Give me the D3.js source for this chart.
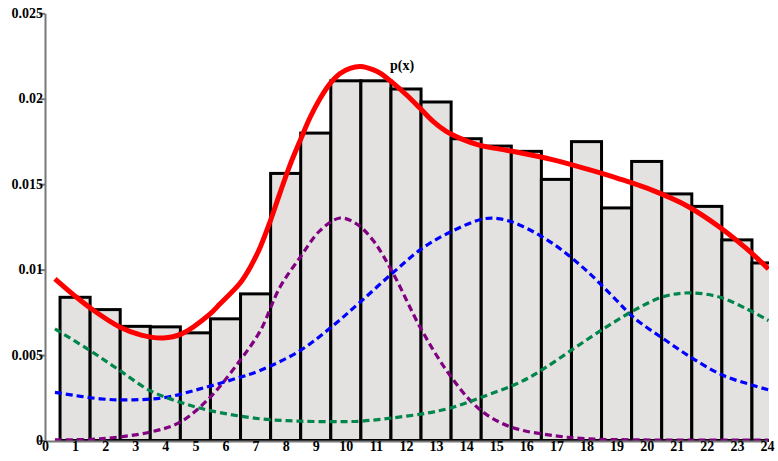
<!DOCTYPE html>
<html>
<head>
<meta charset="utf-8">
<script src="https://cdn.jsdelivr.net/npm/d3@7"></script>
<style>
  html, body { margin: 0; padding: 0; background: #fff; }
  svg { display: block; }
  text { font-family: "Liberation Serif", "Times New Roman", serif; font-weight: bold; }
</style>
</head>
<body>
<script>
// ---- data ----
const categories = [1,2,3,4,5,6,7,8,9,10,11,12,13,14,15,16,17,18,19,20,21,22,23,24];
const barValues = [0.00838,0.00766,0.00668,0.00665,0.0063,0.00712,0.00858,0.01563,0.01799,0.02105,0.02105,0.02057,
                   0.01981,0.01766,0.01723,0.01692,0.01528,0.01749,0.01361,0.01633,0.01443,0.0137,0.01174,0.01039];
const yTicks = [0, 0.005, 0.01, 0.015, 0.02, 0.025];
const yTickLabels = ["0", "0.005", "0.01", "0.015", "0.02", "0.025"];
const xTicks = [0,1,2,3,4,5,6,7,8,9,10,11,12,13,14,15,16,17,18,19,20,21,22,23,24];

// p(x) curve (red)
const pxX = [0.33,1.0,1.55,2.5,3.2,3.93,4.54,5.48,5.82,6.48,6.81,7.15,7.48,7.81,8.14,8.48,8.81,9.14,9.48,9.81,10.14,10.5,10.9,11.14,11.58,12.02,12.47,12.91,13.35,13.8,14.46,15.12,15.79,16.9,18.0,19.11,20.22,21.33,22.44,23.33,24.05];
const pxY = [0.00946,0.00845,0.0077,0.00663,0.00617,0.0060,0.00624,0.0074,0.0080,0.0092,0.0101,0.0113,0.0128,0.01448,0.0161,0.01755,0.0189,0.0200,0.0209,0.02148,0.02178,0.02188,0.0217,0.02150,0.0209,0.02022,0.01944,0.01866,0.01807,0.01768,0.01727,0.01705,0.01684,0.01642,0.01589,0.0153,0.01462,0.01374,0.01247,0.01121,0.01004];

// component 1 (purple)
const c1X = [0.33,1.83,3.49,4.49,5.49,6.48,7.15,7.81,8.48,9.14,9.81,10.36,10.91,11.58,12.47,13.35,14.24,14.9,15.68,16.9,18.0,19.5,21.0,22.5,24.05];
const c1Y = [0.00004,0.0001,0.00049,0.00107,0.00253,0.00468,0.0064,0.00897,0.01072,0.01228,0.01302,0.01267,0.0117,0.00975,0.00663,0.00409,0.00215,0.00127,0.00068,0.00029,0.0001,0.00004,0.00002,0.00002,0.00002];

// component 2 (blue)
const c2X = [0.33,1.83,2.94,4.04,5.15,6.26,7.15,8.48,9.58,10.47,11.58,12.58,13.57,14.57,15.13,15.79,16.9,18.0,19.0,19.56,20.56,21.55,22.55,23.55,24.05];
const c2Y = [0.00282,0.00244,0.00238,0.00253,0.00302,0.00358,0.00410,0.00526,0.00673,0.00809,0.00984,0.0113,0.01228,0.01297,0.01297,0.0126,0.0115,0.00994,0.0082,0.00721,0.00595,0.00478,0.0038,0.00322,0.00296];

// component 3 (green)
const c3X = [0.33,1.5,2.49,3.49,4.49,5.49,7.15,8.48,9.81,10.47,11.58,12.69,13.57,14.46,15.79,16.57,17.56,18.56,19.56,20.56,21.44,22.44,23.33,24.05];
const c3Y = [0.00653,0.00526,0.00409,0.00292,0.00224,0.00175,0.00127,0.00113,0.00111,0.00113,0.00133,0.0016,0.00195,0.0025,0.00341,0.00419,0.00536,0.00653,0.0076,0.00842,0.00864,0.00838,0.0077,0.00702];

const labelText = "p(x)";

// ---- chart ----
const W = 778, H = 461;
const svg = d3.select("body").append("svg").attr("width", W).attr("height", H);

const x = d3.scaleLinear().domain([0, 24]).range([45, 767]);
const y = d3.scaleLinear().domain([0, 0.025]).range([440.5, 13.3]);

svg.append("defs").append("clipPath").attr("id", "plotclip")
  .append("rect").attr("x", 45).attr("y", 0).attr("width", 769 - 45).attr("height", 445);

const plot = svg.append("g").attr("clip-path", "url(#plotclip)");

// bars
plot.selectAll("rect.bar").data(categories).join("rect")
  .attr("class", "bar")
  .attr("x", d => x(d - 0.5))
  .attr("width", d => x(d + 0.5) - x(d - 0.5))
  .attr("y", (d, i) => y(barValues[i]))
  .attr("height", (d, i) => y(0) - y(barValues[i]))
  .attr("fill", "#e3e2e1")
  .attr("stroke", "#000")
  .attr("stroke-width", 3);

function series(xs, ys) { return xs.map((v, i) => [v, ys[i]]); }
const line = d3.line().x(d => x(d[0])).y(d => y(d[1])).curve(d3.curveCatmullRom.alpha(0.5));

const comps = [
  { xs: c1X, ys: c1Y, color: "#800080" },
  { xs: c2X, ys: c2Y, color: "#0000ff" },
  { xs: c3X, ys: c3Y, color: "#00854a" }
];
comps.forEach(c => {
  plot.append("path").datum(series(c.xs, c.ys))
    .attr("d", line)
    .attr("fill", "none")
    .attr("stroke", c.color)
    .attr("stroke-width", 3.2)
    .attr("stroke-dasharray", "7,4");
});

plot.append("path").datum(series(pxX, pxY))
  .attr("d", line)
  .attr("fill", "none")
  .attr("stroke", "#ff0000")
  .attr("stroke-width", 5)
  .attr("stroke-linecap", "butt");

// left axis
const yAxis = d3.axisLeft(y).tickValues(yTicks).tickFormat((d, i) => yTickLabels[i]).tickSize(6).tickSizeOuter(0);
const gy = svg.append("g").attr("transform", "translate(45,0)").call(yAxis);
gy.select(".domain").attr("stroke", "#777").attr("stroke-width", 2);
gy.selectAll(".tick line").attr("stroke", "#777").attr("stroke-width", 2);
gy.selectAll(".tick text").attr("font-size", 14).attr("fill", "#000")
  .attr("font-family", "'Liberation Serif', serif").attr("font-weight", "bold").attr("x", -2).attr("dy", "0.3em");

// bottom axis
const xAxis = d3.axisBottom(x).tickValues(xTicks).tickFormat(d3.format("d")).tickSize(0).tickSizeOuter(0);
const gx = svg.append("g").attr("transform", "translate(0,441)").call(xAxis);
gx.select(".domain").attr("stroke", "#777").attr("stroke-width", 2);
gx.selectAll(".tick text").attr("font-size", 14).attr("fill", "#000")
  .attr("font-family", "'Liberation Serif', serif").attr("font-weight", "bold").attr("dy", "0.5em");

// label
svg.append("text").attr("x", x(11.87)).attr("y", y(0.02168))
  .attr("font-size", 14).attr("text-anchor", "middle").attr("fill", "#000").text(labelText);
</script>
</body>
</html>
